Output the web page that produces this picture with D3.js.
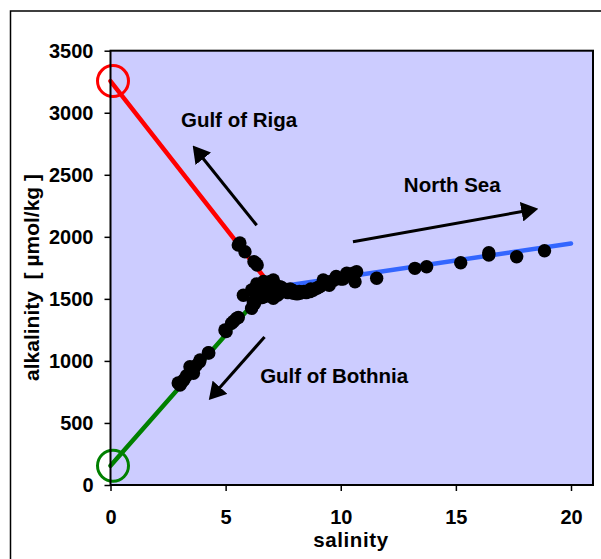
<!DOCTYPE html>
<html><head><meta charset="utf-8">
<script src="https://cdn.jsdelivr.net/npm/d3@7"></script>
<style>body{margin:0;background:#fff}svg{display:block}text{font-family:"Liberation Sans",Arial,sans-serif;font-weight:bold;fill:#000}</style>
</head><body><svg id="c" width="601" height="559"></svg>
<script>
// Observations (salinity, alkalinity)
const salinity = [5.55,5.62,5.84,6.23,6.37,6.30,
  5.77,6.20,6.13,6.49,6.92,7.07,6.78,7.07,7.36,7.65,7.94,8.23,8.66,8.95,9.24,9.53,9.82,10.26,10.62,10.69,
  6.35,6.45,6.55,6.65,6.85,7.00,7.20,7.50,7.80,8.10,8.40,8.80,9.10,9.40,9.70,10.0,6.60,6.95,7.25,6.40,
  6.30,6.50,6.70,6.90,7.10,7.30,7.45,7.70,7.90,8.20,8.50,8.70,9.00,9.30,9.50,9.80,10.1,10.4,6.75,7.15,6.25,
  6.13,5.48,5.26,4.97,5.02,5.35,5.55,4.25,3.89,3.45,3.52,3.19,3.02,2.94,3.10,3.30,3.70,4.27,3.86,3.60,
  10.54,11.56,13.22,13.73,15.21,16.43,16.43,17.64,18.85];
const alkalinity = [1934,1950,1880,1799,1773,1790,
  1529,1477,1571,1598,1638,1652,1558,1504,1598,1571,1545,1545,1558,1585,1652,1638,1666,1706,1638,1719,
  1620,1550,1600,1640,1580,1520,1570,1560,1580,1540,1560,1570,1600,1620,1650,1660,1510,1600,1530,1500,
  1590,1580,1520,1560,1610,1540,1590,1550,1570,1560,1550,1580,1590,1640,1610,1680,1660,1690,1630,1560,1460,
  1424,1343,1303,1249,1236,1320,1350,1066,1007,953,920,849,806,822,830,880,960,1064,992,900,
  1706,1666,1746,1759,1791,1853,1872,1840,1888];
// Mixing lines [start, end]
const rigaLine = {s:[0,6.9], a:[3255,1620]};
const bothniaLine = {s:[0,6.9], a:[155,1610]};
const northSeaLine = {s:[7,20], a:[1590,1946]};
// End-member circles
const endMembers = [{s:0,a:3255,color:"#ff0000"},{s:0,a:155,color:"#008000"}];
// Arrows [from, to] in data units
const arrows = [
  {s:[6.35,3.57], a:[2093,2736]},
  {s:[10.53,18.58], a:[1960,2227]},
  {s:[6.69,4.27], a:[1193,685]}
];
const labels = [
  {text:"Gulf of Riga", s:3.06, a:2885},
  {text:"North Sea", s:12.74, a:2361},
  {text:"Gulf of Bothnia", s:6.5, a:822}
];
const xTicks = [0,5,10,15,20];
const yTicks = [0,500,1000,1500,2000,2500,3000,3500];

const svg = d3.select("#c");
const L=110.5, R=593, T=50.7, B=485;
const x = d3.scaleLinear().domain([0,20]).range([L,571]);
const y = d3.scaleLinear().domain([0,3500]).range([B,T]);

// outer frame
svg.append("rect").attr("x",10.5).attr("y",11).attr("width",650).attr("height",600)
  .attr("fill","none").attr("stroke","#000").attr("stroke-width",1.5);
// plot area
svg.append("rect").attr("x",L).attr("y",T).attr("width",R-L).attr("height",B-T)
  .attr("fill","#ccccff");

const defs = svg.append("defs");

// axes
const yAxis = d3.axisLeft(y).tickValues(yTicks).tickSize(6).tickPadding(11).tickFormat(d3.format("d"));
const gy = svg.append("g").attr("transform",`translate(${L},0)`).call(yAxis);
const xAxis = d3.axisBottom(x).tickValues(xTicks).tickSize(6).tickPadding(19).tickFormat(d3.format("d"));
const gx = svg.append("g").attr("transform",`translate(0,${B})`).call(xAxis);
[gx,gy].forEach(g=>{
  g.select(".domain").remove();
  g.selectAll(".tick line").attr("stroke","#000").attr("stroke-width",1.5);
  g.selectAll(".tick text").style("font-size","20px").style("font-family","Liberation Sans, Arial, sans-serif").style("font-weight","bold");
});

const plot = svg.append("g");
const line = d3.line().x(d=>x(d[0])).y(d=>y(d[1]));
function seg(o){return [[o.s[0],o.a[0]],[o.s[1],o.a[1]]];}
plot.append("path").attr("d",line(seg(rigaLine))).attr("stroke","#ff0000").attr("stroke-width",4.5).attr("fill","none").attr("stroke-linecap","round");
plot.append("path").attr("d",line(seg(bothniaLine))).attr("stroke","#008000").attr("stroke-width",4.5).attr("fill","none").attr("stroke-linecap","round");
plot.append("path").attr("d",line(seg(northSeaLine))).attr("stroke","#3366ff").attr("stroke-width",4.5).attr("fill","none").attr("stroke-linecap","round");

plot.selectAll("circle.em").data(endMembers).enter().append("circle")
  .attr("cx",d=>x(d.s)+2.5).attr("cy",d=>y(d.a)).attr("r",15.5)
  .attr("fill","none").attr("stroke",d=>d.color).attr("stroke-width",3);

// data points
plot.selectAll("circle.pt").data(salinity.map((s,i)=>[s,alkalinity[i]])).enter().append("circle")
  .attr("cx",d=>x(d[0])).attr("cy",d=>y(d[1])).attr("r",6.7).attr("fill","#000");

// arrows
defs.append("marker").attr("id","ah").attr("viewBox","0 0 17 20").attr("refX",2).attr("refY",10)
  .attr("markerWidth",17).attr("markerHeight",20).attr("orient","auto").attr("markerUnits","userSpaceOnUse")
  .append("path").attr("d","M0,0 L17,10 L0,20 z").attr("fill","#000");
arrows.forEach(a=>{
  const x1=x(a.s[0]), y1=y(a.a[0]), x2=x(a.s[1]), y2=y(a.a[1]);
  const dx=x2-x1, dy=y2-y1, len=Math.hypot(dx,dy), back=15;
  svg.append("line").attr("x1",x1).attr("y1",y1)
    .attr("x2",x2-dx/len*back).attr("y2",y2-dy/len*back)
    .attr("stroke","#000").attr("stroke-width",3).attr("marker-end","url(#ah)");
});

// plot border
svg.append("rect").attr("x",L).attr("y",T).attr("width",R-L).attr("height",B-T)
  .attr("fill","none").attr("stroke","#000").attr("stroke-width",2);

svg.selectAll("text.lab").data(labels).enter().append("text")
  .attr("x",d=>x(d.s)).attr("y",d=>y(d.a)).style("font-size","20.5px").text(d=>d.text);

svg.append("text").attr("x",351).attr("y",547).attr("text-anchor","middle")
  .style("font-size","20.5px").style("letter-spacing","0.6px").text("salinity");
svg.append("text").attr("transform","translate(39,277.5) rotate(-90)").attr("text-anchor","middle")
  .style("font-size","21px").attr("xml:space","preserve").text("alkalinity  [ µmol/kg ]");
</script></body></html>
